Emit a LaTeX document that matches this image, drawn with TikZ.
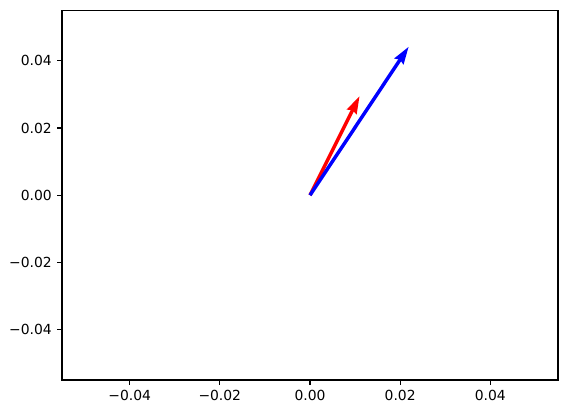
\documentclass[tikz,border=0pt]{standalone}
\usepackage{fontspec}
\setmainfont{DejaVu Sans}
\usetikzlibrary{arrows.meta}
\tikzset{
  quiv/.style={line width=2.5pt, -{Stealth[length=0pt 5, width=0pt 3, inset=0pt 0.5]}},
  axtick/.style={line width=0.8pt},
  ticklab/.style={inner sep=0pt, font=\fontsize{10}{12}\selectfont},
}
\begin{document}
\begin{tikzpicture}[x=0.72pt, y=0.72pt]
	\useasboundingbox (0,0) rectangle (567,413);
	% axes frame
	\draw[line width=0.8pt] (62,33) rectangle (558,402.6);
	
	\begin{scope}[shift={(310,217.8)}, x=3246.5pt, y=2419.2pt]
		% ticks and tick labels
		\foreach \v/\t [count=\i] in {-0.04/−0.04, -0.02/−0.02, 0/0.00, 0.02/0.02, 0.04/0.04} {
			\draw[axtick] (\v,-0.055) -- ++(0pt,-3.5pt) node[ticklab, below=3.5pt] (xlab\i) {\t};
			\draw[axtick] (-0.055,\v) -- ++(-3.5pt,0pt) node[ticklab, left=3.5pt] (ylab\i) {\t};
		}
		
		% vectors
		\coordinate (orig) at (0,0);
		\coordinate (redtip) at (0.0110,0.0295);
		\coordinate (bluetip) at (0.0219,0.0442);
		\draw[quiv, red] (orig) -- (redtip);
		\draw[quiv, blue] (orig) -- (bluetip);
	\end{scope}
\end{tikzpicture}
\end{document}
